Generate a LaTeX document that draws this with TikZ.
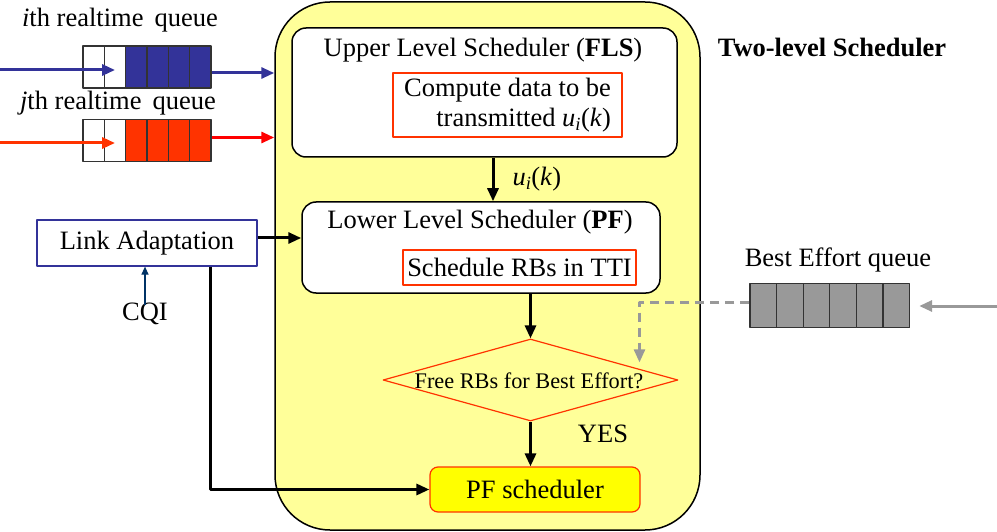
\documentclass[tikz,border=0pt]{standalone}
\usepackage{fontspec}
\setmainfont{Liberation Serif}
\usetikzlibrary{positioning,shapes.geometric,arrows.meta}

\definecolor{bgyellow}{RGB}{255,255,153}
\definecolor{pfyellow}{RGB}{255,255,0}
\definecolor{rtblue}{RGB}{51,51,153}
\definecolor{rtred}{RGB}{255,51,0}
\definecolor{begray}{RGB}{153,153,153}
\definecolor{cqiblue}{RGB}{0,51,102}

\newcommand{\uik}{\textit{u}\textsubscript{\textit{i}}(\textit{k})}

\tikzset{
  txt/.style={font=\fontsize{26.5}{30}\selectfont, inner sep=0pt},
  small/.style={font=\fontsize{22.3}{25}\selectfont, inner sep=0pt},
  schedbox/.style={draw, line width=1.5pt, rounded corners=14pt, fill=white},
  redbox/.style={draw=rtred, line width=1.2pt, fill=white},
  cell/.style={draw=black!80, line width=1.2pt, minimum width=21.33pt,
    minimum height=42pt, inner sep=0pt},
  becell/.style={cell, fill=begray, minimum width=26.6pt, minimum height=44pt},
  flow/.style={->, line width=3pt}
}

\begin{document}
\begin{tikzpicture}[x=1pt, y=-1pt, >={Triangle[length=13pt,width=11pt]}, line join=round]
  \useasboundingbox (0,0) rectangle (997,532);

  % Two-level scheduler frame
  \node[draw, line width=1.5pt, fill=bgyellow, rounded corners=55pt,
    minimum width=425pt, minimum height=528pt] (tls) at (487.5,266) {};
  \node[txt, font=\fontsize{26.5}{30}\selectfont\bfseries] (tlsTitle) at (832,47) {Two-level Scheduler};

  % Upper level
  \node[schedbox, minimum width=385pt, minimum height=129pt] (fls) at (484.5,92.5) {};
  \node[txt] (flsTitle) at (483,50) {Upper Level Scheduler (\textbf{FLS})};
  \node[redbox, txt, align=right, minimum width=229pt, minimum height=64pt,
    inner xsep=9pt] (comp) at (507.5,105) {Compute data to be\\transmitted \uik};

  % Lower level
  \node[schedbox, minimum width=358pt, minimum height=91pt] (pf) at (481,247.5) {};
  \node[txt] (pfTitle) at (480,222) {Lower Level Scheduler (\textbf{PF})};
  \node[redbox, txt, minimum width=233pt, minimum height=35pt] (rbs) at (519.5,267.5) {Schedule RBs in TTI};

  \draw[flow] ([xshift=8.5pt]fls.south) -- ([xshift=8.5pt]fls.south |- pf.north)
    node[midway, right=18pt, txt] (ukLab) {\uik};

  % Best effort check
  \node[diamond, draw=rtred, line width=1.2pt, fill=bgyellow, inner sep=0pt,
    minimum width=295pt, minimum height=82pt, small] (free) at (530.5,380) {};
  \node[small] (freeText) at (529,381) {Free RBs for Best Effort?};
  \node[draw=rtred, line width=1.2pt, fill=pfyellow, rounded corners=8pt,
    minimum width=210pt, minimum height=45pt, txt] (pfs) at (535,489.5) {PF scheduler};

  \draw[flow] (free.north |- pf.south) -- (free.north);
  \draw[flow] (free.south) -- (free.south |- pfs.north);
  \node[txt] (yes) at (603,434) {YES};

  % Link adaptation
  \node[draw=rtblue, line width=1.2pt, fill=white, minimum width=220pt,
    minimum height=46pt, txt] (la) at (147,243) {Link Adaptation};
  \node[txt] (cqi) at (145,314) {CQI};
  \draw[->, cqiblue, line width=1.2pt, >={Triangle[length=8pt,width=7pt]}]
    ([yshift=-2pt]cqi.north) -- (cqi.north |- la.south);
  \draw[flow] ([yshift=5pt]la.east) -- ([yshift=5pt]la.east -| pf.west);
  \draw[flow] ([xshift=63pt]la.south) |- (pfs.west);

  % Real-time queues
  \node[txt] (qiLab) at (120,20) {\textit{i}th realtime\, queue};
  \node[txt] (qjLab) at (118,103) {\textit{j}th realtime\, queue};
  \foreach \k/\col in {0/white,1/white,2/rtblue,3/rtblue,4/rtblue,5/rtblue} {
    \node[cell, fill=\col] (qi\k) at ({93.7+\k*21.33},67) {};
  }
  \foreach \k/\col in {0/white,1/white,2/rtred,3/rtred,4/rtred,5/rtred} {
    \node[cell, fill=\col] (qj\k) at ({93.7+\k*21.33},140.5) {};
  }
  \coordinate (iin) at (0,70);
  \coordinate (jin) at (0,143);
  \draw[->, rtblue, line width=3pt] (iin) -- (iin -| qi1.center);
  \draw[->, rtblue, line width=3pt] ([yshift=-6pt]qi5.east) -- ([yshift=-6pt]qi5.east -| tls.west);
  \draw[->, rtred, line width=3pt] (jin) -- (jin -| qj1.center);
  \draw[->, red, line width=3pt] ([yshift=3pt]qj5.east) -- ([yshift=3pt]qj5.east -| tls.west);

  % Best effort queue
  \node[txt] (beLab) at (838,260) {Best Effort queue};
  \foreach \k in {0,...,5} {
    \node[becell] (be\k) at ({763.3+\k*26.6},305.5) {};
  }
  \coordinate (bein) at (997,306);
  \draw[->, begray, line width=3pt] (bein) -- ([xshift=9pt]bein -| be5.east);
  \draw[->, begray, line width=2.5pt, dashed, dash pattern=on 9pt off 6pt]
    ([yshift=3pt]be0.west) -| ([xshift=109pt,yshift=-24pt]free.north);
\end{tikzpicture}
\end{document}
